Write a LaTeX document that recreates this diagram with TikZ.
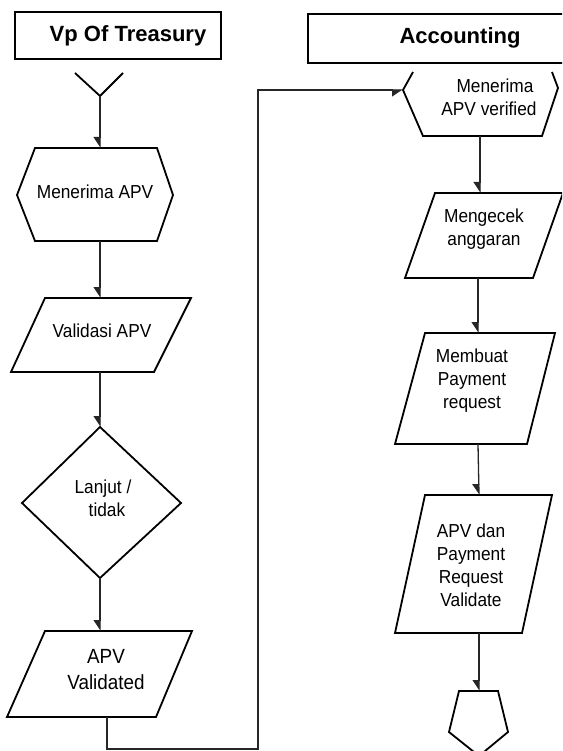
\documentclass[tikz,border=0pt]{standalone}
\usepackage{fontspec}
\setmainfont[FakeStretch=0.92]{Liberation Sans}
\newfontfamily\hdrfont{Liberation Sans}
\usetikzlibrary{arrows.meta}
\begin{document}
\begin{tikzpicture}[x=1pt,y=-1pt,
  shp/.style={draw=black, line width=1.8pt, line join=miter},
  hdr/.style={draw=black, line width=2pt},
  lbl/.style={align=center, font=\fontsize{18.8}{23}\selectfont, inner sep=0pt},
  hlbl/.style={font=\hdrfont\bfseries\fontsize{22}{26}\selectfont, inner sep=0pt},
  conn/.style={draw=black!85, line width=1.3pt},
  arr/.style={conn, -{Triangle[harpoon,swap,length=10pt,width=13pt]}}
]
\useasboundingbox (0,0) rectangle (562,751);
\clip (0,0) rectangle (562,751);

% headers
\draw[hdr] (15,12) rectangle (221,59);
\node[hlbl] (h1) at (128,36) {Vp Of Treasury};
\draw[hdr] (308,14) rectangle (575,63);
\node[hlbl] (h2) at (460,38) {Accounting};

% start symbol
\draw[shp] (75,73) -- (100,96) -- (123,73);
\coordinate (start) at (100,96);

% left column
\draw[shp] (35,148) -- (157,148) -- (173,195) -- (157,241) -- (35,241) -- (17,195) -- cycle;
\node[lbl] (m1) at (95,192) {Menerima APV};
\coordinate (m1t) at (100,148);
\coordinate (m1b) at (100,241);

\draw[shp] (45,298) -- (191,298) -- (154,372) -- (11,372) -- cycle;
\node[lbl] (v1) at (102,331) {Validasi APV};
\coordinate (v1t) at (100,298);
\coordinate (v1b) at (100,372);

\draw[shp] (100,427) -- (181,503) -- (100,578) -- (22,503) -- cycle;
\node[lbl] (d1) at (103,498) {Lanjut /\\ \hspace*{8pt}tidak};
\coordinate (d1t) at (100,427);
\coordinate (d1b) at (100,578);

\draw[shp] (45,631) -- (192,631) -- (156,717) -- (7,717) -- cycle;
\node[lbl, font=\fontsize{20.5}{26}\selectfont] (a1) at (106,670) {APV\\ Validated};
\coordinate (a1t) at (100,631);
\coordinate (a1b) at (107,717);
\coordinate (c1) at (107,749);
\coordinate (c2) at (258,749);
\coordinate (c3) at (258,90);

% right column
\draw[shp] (413,72) -- (403,90) -- (423,136) -- (542,136) -- (558,88) -- (552,72);
\node[lbl] (r1) at (489,97) {\hspace*{12pt}Menerima\\ APV verified};
\coordinate (r1l) at (403,90);
\coordinate (r1b) at (480,136);

\draw[shp] (435,193) -- (563,193) -- (533,278) -- (405,278) -- cycle;
\node[lbl] (r2) at (484,229) {Mengecek\\ anggaran};
\coordinate (r2t) at (480,193);
\coordinate (r2b) at (478,278);

\draw[shp] (425,333) -- (555,333) -- (527,444) -- (395,444) -- cycle;
\node[lbl] (r3) at (472,381) {Membuat\\ Payment\\ request};
\coordinate (r3t) at (478,333);
\coordinate (r3b) at (478,444);

\draw[shp] (425,495) -- (552,495) -- (522,633) -- (395,633) -- cycle;
\node[lbl] (r4) at (471,565) {APV dan\\ Payment\\ Request\\ Validate};
\coordinate (r4t) at (479,495);
\coordinate (r4b) at (479,633);

\draw[shp] (459,691) -- (498,691) -- (508,732) -- (479,756) -- (449,732) -- cycle;
\coordinate (endt) at (479,691);

% connectors
\draw[arr] (start) -- (m1t);
\draw[arr] (m1b) -- (v1t);
\draw[arr] (v1b) -- (d1t);
\draw[arr] (d1b) -- (a1t);
\draw[arr] (a1b) -- (c1) -- (c2) -- (c3) -- (r1l);
\draw[arr] (r1b) -- (r2t);
\draw[arr] (r2b) -- (r3t);
\draw[arr] (r3b) -- (r4t);
\draw[arr] (r4b) -- (endt);
\end{tikzpicture}
\end{document}
